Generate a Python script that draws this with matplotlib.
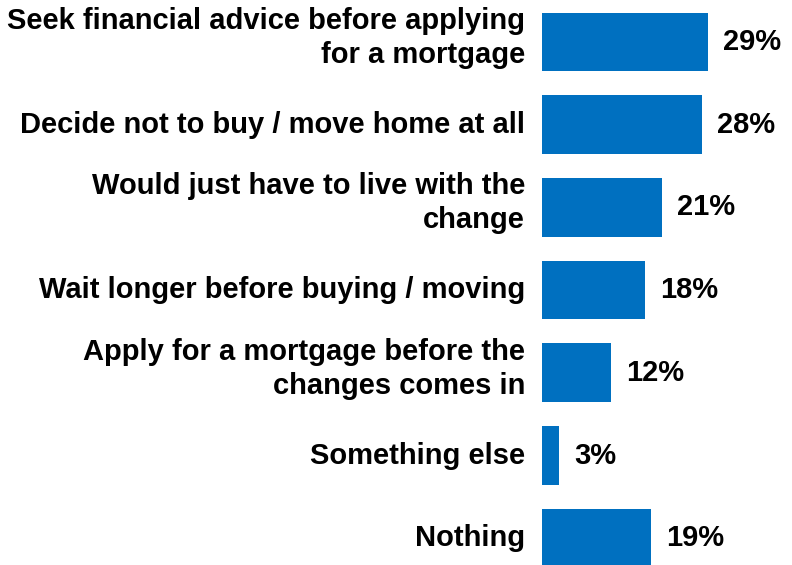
import matplotlib
matplotlib.use("Agg")
import matplotlib.pyplot as plt

# survey answers, top to bottom
labels = [
    "Seek financial advice before applying\nfor a mortgage",
    "Decide not to buy / move home at all",
    "Would just have to live with the\nchange",
    "Wait longer before buying / moving",
    "Apply for a mortgage before the\nchanges comes in",
    "Something else",
    "Nothing",
]
values = [29, 28, 21, 18, 12, 3, 19]

bar_color = "#0070C0"

plt.rcParams["font.family"] = ["Liberation Sans", "DejaVu Sans"]
plt.rcParams["font.weight"] = "bold"

fig = plt.figure(figsize=(7.92, 5.65), dpi=100)
ax = fig.add_axes([542 / 792, 0, 250 / 792, 1])

pos = list(range(len(values)))
ax.barh(pos, values, height=0.71, color=bar_color)

# 5.72 px per percent across the 250 px wide axes
ax.set_xlim(0, 250 / 5.72)
ax.set_ylim(6.324, -0.508)
ax.axis("off")

for p, lab in zip(pos, labels):
    # two-line labels sit a little higher than the bar centre
    dy = 3 if "\n" in lab else 0
    ax.annotate(lab, (0, p), xytext=(-12.2, dy), textcoords="offset points",
                va="center", ha="right", fontsize=21, fontweight="bold",
                linespacing=1.28, annotation_clip=False)

for p, v in zip(pos, values):
    ax.annotate(f"{v}%", (v, p), xytext=(11, 0), textcoords="offset points",
                va="center", ha="left", fontsize=21, fontweight="bold")

fig.savefig("out.png", dpi=100)
